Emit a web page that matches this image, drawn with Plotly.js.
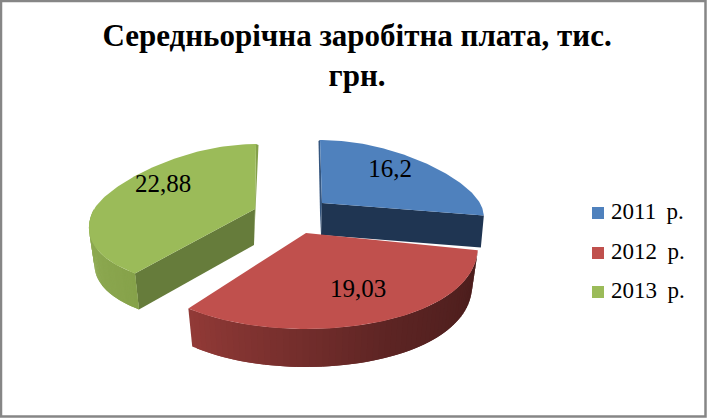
<!DOCTYPE html>
<html><head><meta charset="utf-8">
<script src="https://cdn.plot.ly/plotly-3.0.1.min.js"></script>
<style>html,body{margin:0;padding:0;background:#fff}#c{width:707px;height:418px}</style>
</head><body><div id="c"></div>
<script>
const titleText = 'Середньорічна заробітна плата, тис.<br>грн.';
const categories = ['2011 р.', '2012 р.', '2013 р.'];
const values = [16.2, 19.03, 22.88];
const valueLabels = ['16,2', '19,03', '22,88'];
const topColors = ['#4f81bd', '#c0504d', '#9bbb59'];
const sideColors = ['#1f3552', '#4a1d1c', '#667c3b'];
const apexX = [322, 306, 255];
const apexY = [203, 233, 209];
const radiusX = [158, 170, 161];
const radiusFront = [70, 96, 82];
const radiusBack = [63, 63, 65];
const backSkew = [-2, 0, 1];
const perspective = [0.23, 0.15, 0.26];
const depth = [32, 38, 36];
const wallShift = [-3, 0, 4];
const labelX = [390, 358, 163];
const labelY = [171, 291, 186];
const legendX = [598, 598, 598];
const legendY = [213, 253, 292];

const total = values.reduce((a, b) => a + b, 0);
const starts = []; let acc = 0;
values.forEach(v => { starts.push(acc / total * 2 * Math.PI); acc += v; });
const ends = starts.map((s, i) => s + values[i] / total * 2 * Math.PI);

function rim(i, th) {
  const v = -Math.cos(th);
  const r = v > 0 ? radiusFront[i] : radiusBack[i];
  return [apexX[i] + radiusX[i] * Math.sin(th) * (1 + perspective[i] * v) + backSkew[i] * Math.max(0, -v),
          apexY[i] + r * v];
}
function poly(xs, ys, color) {
  return {x: xs, y: ys, mode: 'lines', fill: 'toself', fillcolor: color,
    line: {color: color, width: 0}, hoverinfo: 'skip', showlegend: false, type: 'scatter'};
}
function mix(a, b, t) {
  return 'rgb(' + a.map((c, k) => Math.round(c + (b[k] - c) * t)).join(',') + ')';
}
function flatWall(i, th) {
  const p = rim(i, th);
  return poly([apexX[i], p[0], p[0] + wallShift[i], apexX[i] - 1, apexX[i]],
              [apexY[i], p[1], p[1] + depth[i], apexY[i] + depth[i], apexY[i]], sideColors[i]);
}
function curvedWall(i, a, b, colorAt) {
  const out = []; const n = 60;
  for (let k = 0; k < n; k++) {
    // each strip runs on under the next one, so that no seam shows between them
    const p = rim(i, a + (b - a) * k / n), q = rim(i, a + (b - a) * Math.min(k + 2, n) / n);
    const s = (p[0] - apexX[i]) * 0.033, e = (q[0] - apexX[i]) * 0.033;
    out.push(poly([p[0], q[0], q[0] - e, p[0] - s, p[0]],
                  [p[1], q[1], q[1] + depth[i], p[1] + depth[i], p[1]], colorAt((k + .5) / n)));
  }
  return out;
}
function topFace(i) {
  const xs = [apexX[i]], ys = [apexY[i]]; const n = 90;
  for (let k = 0; k <= n; k++) {
    const p = rim(i, starts[i] + (ends[i] - starts[i]) * k / n);
    xs.push(p[0]); ys.push(p[1]);
  }
  xs.push(apexX[i]); ys.push(apexY[i]);
  return poly(xs, ys, topColors[i]);
}

const traces = [];
const b0 = rim(0, starts[0]);
traces.push(poly([b0[0], b0[0] - 1.5, apexX[0] - 2, apexX[0] - 1, apexX[0], b0[0]],
                 [b0[1], b0[1] + 1, apexY[0] + 10, apexY[0] + depth[0], apexY[0], b0[1]], '#35567f'));
traces.push(flatWall(0, ends[0]));
traces.push(topFace(0));
const g1 = rim(2, ends[2]);
traces.push(poly([g1[0], g1[0] + 2.5, apexX[2] - 1, apexX[2], g1[0]],
                 [g1[1], g1[1] + 1, apexY[2] + depth[2] - 3, apexY[2], g1[1]], '#84a04a'));
traces.push(flatWall(2, starts[2]));
traces.push(...curvedWall(2, 1.5 * Math.PI, starts[2], t => mix([146, 174, 86], [134, 162, 74], t)));
traces.push(topFace(2));
traces.push(...curvedWall(1, ends[1], starts[1], t => t < 0.55
  ? mix([146, 58, 55], [92, 36, 35], t / 0.55) : mix([92, 36, 35], [72, 28, 27], (t - 0.55) / 0.45)));
traces.push(topFace(1));

traces.push({x: labelX, y: labelY, text: valueLabels, mode: 'text', type: 'scatter',
  textposition: 'middle center', hoverinfo: 'skip', showlegend: false,
  textfont: {family: 'Liberation Serif', size: 25, color: '#000'}});
categories.forEach((c, i) => traces.push({x: [legendX[i]], y: [legendY[i]], text: ['\u2009' + c.replace(' ', '\u00a0\u2009')],
  name: c, mode: 'markers+text', type: 'scatter', textposition: 'middle right', showlegend: false,
  cliponaxis: false, hoverinfo: 'name',
  marker: {symbol: 'square', size: 12, color: topColors[i]},
  textfont: {family: 'Liberation Serif', size: 23, color: '#000'}}));

const layout = {
  width: 707, height: 418, margin: {l: 0, r: 0, t: 0, b: 0},
  paper_bgcolor: '#fff', plot_bgcolor: '#fff', showlegend: false,
  title: {text: titleText, x: 0.505, xanchor: 'center', y: 0.891, yanchor: 'middle',
    font: {family: 'Liberation Serif', size: 31, color: '#000', weight: 700}},
  xaxis: {range: [0, 707], visible: false, fixedrange: true},
  yaxis: {range: [418, 0], visible: false, fixedrange: true},
  shapes: [{type: 'rect', xref: 'x', yref: 'y', x0: 1, x1: 705.5, y0: 1, y1: 416.5,
    line: {color: '#868686', width: 2.5}, layer: 'above'}]
};
Plotly.newPlot('c', traces, layout, {displayModeBar: false, responsive: false});
</script></body></html>
